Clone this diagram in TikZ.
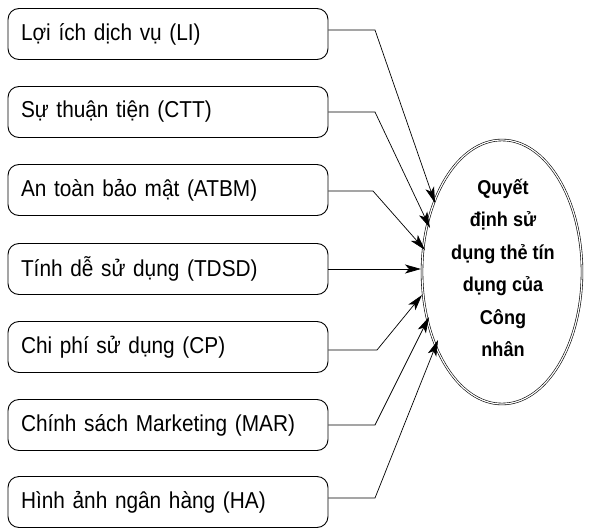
\documentclass[tikz,border=0pt]{standalone}
\usepackage{fontspec}
\setmainfont[FakeStretch=0.905]{Liberation Sans}
\usetikzlibrary{arrows.meta,shapes.geometric}
\begin{document}
\begin{tikzpicture}[x=1pt,y=-1pt,
  factor/.style={draw,line width=0.9pt,rounded corners=11pt,minimum width=320pt,minimum height=51pt,
    text width=294pt,align=left,inner sep=0pt,font=\fontsize{23}{25}\selectfont},
  link/.style={line width=0.7pt,-{Stealth[length=16pt,width=9pt,inset=4pt]}},
  goal/.style={draw,double,double distance=1.2pt,line width=0.6pt,ellipse,minimum width=160pt,minimum height=264pt,inner sep=0pt}]
\useasboundingbox (0,0) rectangle (591,527);
\node[factor] (li) at (168,34) {Lợi ích dịch vụ (LI)};
\node[factor] (ctt) at (168,112) {Sự thuận tiện (CTT)};
\node[factor] (atbm) at (168,190) {An toàn bảo mật (ATBM)};
\node[factor] (tdsd) at (168,269) {Tính dễ sử dụng (TDSD)};
\node[factor] (cp) at (168,347) {Chi phí sử dụng (CP)};
\node[factor] (mar) at (168,425) {Chính sách Marketing (MAR)};
\node[factor] (ha) at (168,502) {Hình ảnh ngân hàng (HA)};
\node[goal] (qd) at (502,272) {};
\node[font=\bfseries\fontsize{20}{32.5}\selectfont,align=center] (qdt) at (503,268)
  {Quyết\\định sử\\dụng thẻ tín\\dụng của\\Công\\nhân};
\coordinate (b1) at (375,30);
\coordinate (b2) at (375,112);
\coordinate (b3) at (373,191);
\coordinate (b5) at (377,350);
\coordinate (b6) at (375,425);
\coordinate (b7) at (375,498);
\coordinate (t1) at (435,203);
\coordinate (t2) at (430,228);
\coordinate (t3) at (425,250);
\coordinate (t4) at (421,269);
\coordinate (t5) at (422,295);
\coordinate (t6) at (429,317);
\coordinate (t7) at (438,340);
\draw[link] (li.east |- b1) -- (b1) -- (t1);
\draw[link] (ctt.east |- b2) -- (b2) -- (t2);
\draw[link] (atbm.east |- b3) -- (b3) -- (t3);
\draw[link] (tdsd.east) -- (t4);
\draw[link] (cp.east |- b5) -- (b5) -- (t5);
\draw[link] (mar.east |- b6) -- (b6) -- (t6);
\draw[link] (ha.east |- b7) -- (b7) -- (t7);
\end{tikzpicture}
\end{document}
